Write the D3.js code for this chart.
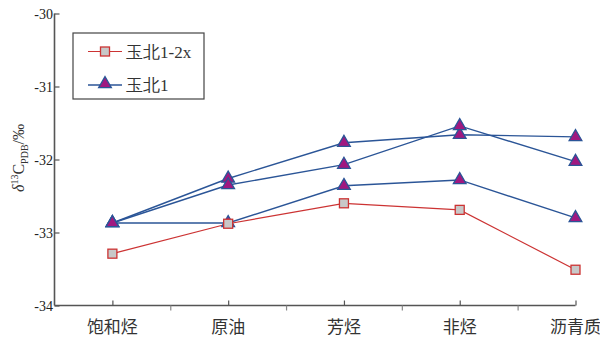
<!DOCTYPE html>
<html><head><meta charset="utf-8">
<script src="https://cdn.jsdelivr.net/npm/d3@7"></script>
<style>body{margin:0;background:#fff}svg{display:block}</style>
</head><body><svg id="c" width="600" height="337"></svg>
<script>
const categories = ["饱和烃","原油","芳烃","非烃","沥青质"];
const yTicks = [-34,-33,-32,-31,-30];
const redSeriesName = "玉北1-2x";
const blueSeriesName = "玉北1";
const redValues = [-33.29,-32.88,-32.60,-32.69,-33.51];
const blueA = [-32.87,-32.26,-31.77,-31.66,-31.69];
const blueB = [-32.87,-32.35,-32.07,-31.54,-32.03];
const blueC = [-32.87,-32.87,-32.36,-32.28,-32.80];

const svg = d3.select("#c");
const x = d3.scaleLinear().domain([0.5,5]).range([54.5,575.5]);
const y = d3.scaleLinear().domain([-34,-30]).range([305.5,13.5]);
const axisColor = "#555";
const red = "#cc3333", blue = "#2b5597", tri = "#a01880", sq = "#c8c8c8";
const numFont = "'Liberation Serif','Times New Roman',serif";
const cjkFont = "'Noto Sans CJK SC',sans-serif";

// Y axis
const ya = svg.append("g").attr("transform","translate(54.5,0)")
  .call(d3.axisRight(y).tickValues(yTicks).tickSize(5).tickFormat(""));
ya.select(".domain").attr("stroke",axisColor).attr("stroke-width",1.6).attr("d","M0,13.5V305.5");
ya.selectAll(".tick line").attr("stroke",axisColor).attr("stroke-width",1.2);
svg.append("g").selectAll("text").data(yTicks).join("text")
  .attr("x",53).attr("y",d=>y(d)+5).attr("text-anchor","end")
  .attr("font-family",numFont).attr("font-size",14).attr("fill","#222")
  .text(d=>d);

// X axis
const xa = svg.append("g").attr("transform","translate(0,305.5)")
  .call(d3.axisTop(x).tickValues([1,2,3,4,5]).tickSize(5).tickFormat(""));
xa.select(".domain").attr("stroke",axisColor).attr("stroke-width",1.6).attr("d","M54.5,0H575.5");
xa.selectAll(".tick line").attr("stroke",axisColor).attr("stroke-width",1.2);
const xb = svg.append("g").attr("transform","translate(0,305.5)")
  .call(d3.axisBottom(x).tickValues([1.5,2.5,3.5,4.5]).tickSize(5).tickFormat(""));
xb.select(".domain").remove();
xb.selectAll(".tick line").attr("stroke","#888").attr("stroke-width",1.2);
svg.append("g").selectAll("text").data(categories).join("text")
  .attr("x",(d,i)=>x(i+1)).attr("y",333).attr("text-anchor","middle")
  .attr("font-family",cjkFont).attr("font-size",17).attr("fill","#333")
  .text(d=>d);

// Y label
const yl = svg.append("text").attr("transform","translate(24,158) rotate(-90)")
  .attr("text-anchor","middle").attr("font-family",numFont).attr("font-size",16).attr("fill","#333");
yl.append("tspan").attr("font-style","italic").text("δ");
yl.append("tspan").attr("font-size",10).attr("dy",-6).text("13");
yl.append("tspan").attr("dy",6).text("C");
yl.append("tspan").attr("font-size",10).attr("dy",4).text("PDB");
yl.append("tspan").attr("dy",-4).text("/‰");

const line = d3.line().x((d,i)=>x(i+1)).y(d=>y(d));
const triPath = d3.symbol().type(d3.symbolTriangle).size(70);

[blueA,blueB,blueC].forEach(s=>{
  svg.append("path").datum(s).attr("d",line).attr("fill","none").attr("stroke",blue).attr("stroke-width",1.4);
});
svg.append("path").datum(redValues).attr("d",line).attr("fill","none").attr("stroke",red).attr("stroke-width",1.2);
[blueA,blueB,blueC].forEach(s=>{
  svg.append("g").selectAll("path").data(s).join("path")
    .attr("d",triPath()).attr("transform",(d,i)=>`translate(${x(i+1)},${y(d)})`)
    .attr("fill",tri).attr("stroke",blue).attr("stroke-width",1.3);
});
svg.append("g").selectAll("rect").data(redValues).join("rect")
  .attr("x",(d,i)=>x(i+1)-4.5).attr("y",d=>y(d)-4.5).attr("width",9).attr("height",9)
  .attr("fill",sq).attr("stroke",red).attr("stroke-width",1.3);

// Legend
const lg = svg.append("g");
lg.append("rect").attr("x",73).attr("y",33).attr("width",131).attr("height",66)
  .attr("fill","#fff").attr("stroke","#444").attr("stroke-width",1.2);
lg.append("line").attr("x1",88).attr("x2",122).attr("y1",51.5).attr("y2",51.5).attr("stroke",red).attr("stroke-width",1.2);
lg.append("rect").attr("x",100.5).attr("y",47).attr("width",9).attr("height",9).attr("fill",sq).attr("stroke",red).attr("stroke-width",1.3);
lg.append("text").attr("x",126).attr("y",57.5).attr("font-family",numFont).attr("font-size",17).attr("fill","#333").text(redSeriesName);
lg.append("line").attr("x1",88).attr("x2",122).attr("y1",85).attr("y2",85).attr("stroke",blue).attr("stroke-width",1.4);
lg.append("path").attr("d",triPath()).attr("transform","translate(105,84)").attr("fill",tri).attr("stroke",blue).attr("stroke-width",1.3);
lg.append("text").attr("x",126).attr("y",91).attr("font-family",numFont).attr("font-size",17).attr("fill","#333").text(blueSeriesName);
</script></body></html>
